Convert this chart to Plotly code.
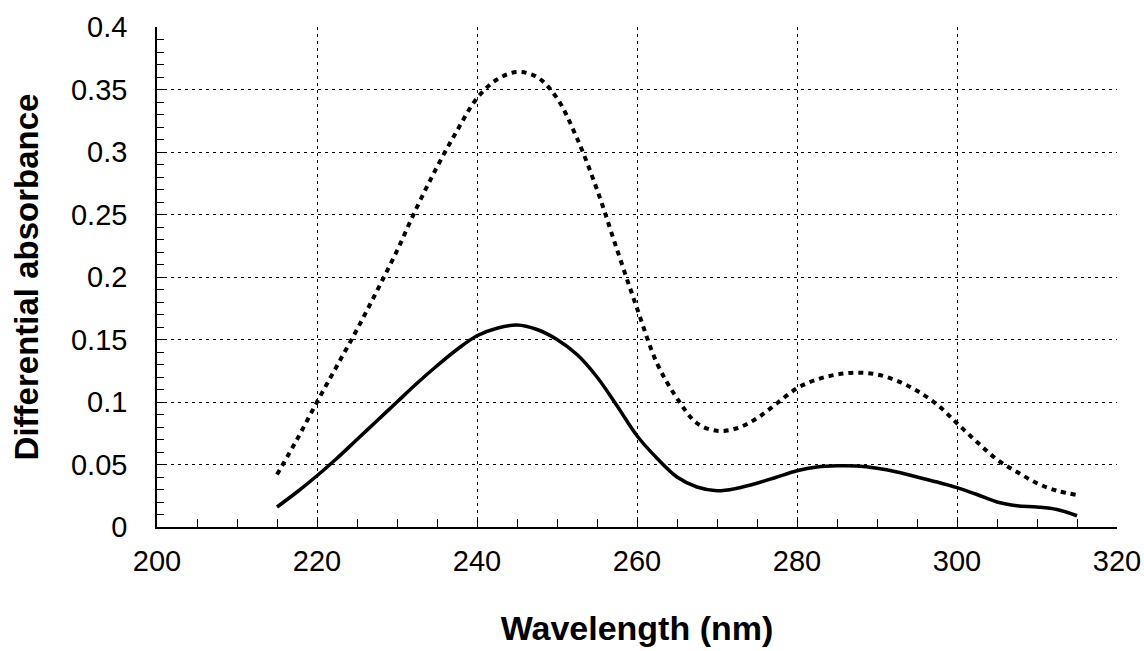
import plotly.graph_objects as go

wavelength = [215, 217.5, 220, 222.5, 225, 227.5, 230, 232.5, 235, 237.5, 240, 242.5,
              245, 247.5, 250, 252.5, 255, 257.5, 260, 262.5, 265, 267.5, 270, 272.5,
              275, 277.5, 280, 282.5, 285, 287.5, 290, 292.5, 295, 297.5, 300, 302.5,
              305, 307.5, 310, 312.5, 315]

solid_absorbance = [0.016, 0.028, 0.041, 0.055, 0.070, 0.085, 0.100, 0.115, 0.129, 0.142,
                    0.153, 0.159, 0.1616, 0.158, 0.150, 0.138, 0.120, 0.097, 0.073, 0.055,
                    0.040, 0.032, 0.029, 0.031, 0.035, 0.040, 0.045, 0.048, 0.049, 0.0488,
                    0.047, 0.044, 0.040, 0.036, 0.0315, 0.026, 0.020, 0.017, 0.016, 0.014,
                    0.009]

dotted_absorbance = [0.042, 0.070, 0.100, 0.129, 0.158, 0.189, 0.221, 0.256, 0.288, 0.317,
                     0.343, 0.358, 0.364, 0.360, 0.343, 0.311, 0.270, 0.222, 0.175, 0.131,
                     0.103, 0.083, 0.077, 0.079, 0.087, 0.099, 0.111, 0.118, 0.122, 0.1235,
                     0.122, 0.117, 0.109, 0.098, 0.083, 0.068, 0.054, 0.044, 0.035, 0.029,
                     0.0256]

FONT = "Liberation Sans, Arial, sans-serif"

fig = go.Figure()
fig.add_trace(go.Scatter(x=wavelength, y=dotted_absorbance, mode="lines",
                         line=dict(color="black", width=4, dash="5px,5px", shape="spline"),
                         showlegend=False))
fig.add_trace(go.Scatter(x=wavelength, y=solid_absorbance, mode="lines",
                         line=dict(color="black", width=3.5, shape="spline"),
                         showlegend=False))

fig.update_layout(
    width=1144, height=651,
    margin=dict(l=157, r=27, t=27, b=124),
    paper_bgcolor="white", plot_bgcolor="white",
    font=dict(family=FONT, color="black", size=29),
    xaxis=dict(
        range=[200, 320], dtick=20, tick0=200,
        showgrid=True, gridcolor="black", gridwidth=1, griddash="3px,4px",
        showline=True, linecolor="black", linewidth=1.5,
        ticks="inside", ticklen=8, tickcolor="black", tickwidth=1,
        minor=dict(dtick=5, ticks="inside", ticklen=8, tickcolor="black", tickwidth=1, showgrid=False),
        tickfont=dict(size=29, family=FONT),
        ticklabelstandoff=7,
        title=dict(text="<b>Wavelength (nm)</b>", font=dict(size=34, family=FONT), standoff=41),
        zeroline=False, automargin=False,
    ),
    yaxis=dict(
        range=[0, 0.4], dtick=0.05, tick0=0,
        showgrid=True, gridcolor="black", gridwidth=1, griddash="3px,4px",
        showline=True, linecolor="black", linewidth=1.5,
        ticks="inside", ticklen=7, tickcolor="black", tickwidth=1,
        minor=dict(dtick=0.01, ticks="inside", ticklen=7, tickcolor="black", tickwidth=1, showgrid=False),
        tickfont=dict(size=29, family=FONT),
        ticklabelstandoff=22,
        title=dict(text="<b>Differential absorbance</b>", font=dict(size=33, family=FONT), standoff=22),
        zeroline=False, automargin=False,
    ),
)

fig.write_html("out.html", config={"displayModeBar": False},
               post_script="document.body.style.margin='0';document.body.style.overflow='hidden';")
